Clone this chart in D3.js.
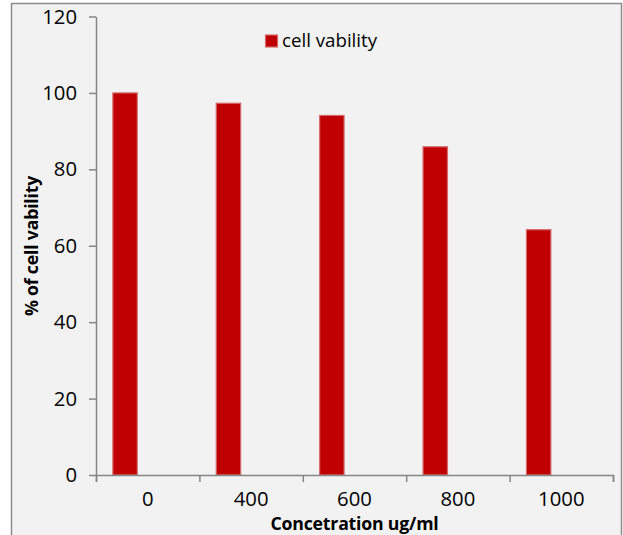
<!DOCTYPE html>
<html>
<head>
<meta charset="utf-8">
<script src="https://cdn.jsdelivr.net/npm/d3@7"></script>
<style>
  body { margin: 0; background: #ffffff; }
  svg { display: block; }
</style>
</head>
<body>
<div id="chart"></div>
<script>
window.onload = function() {
const FRAME_WIDTH = 623;
const FRAME_HEIGHT = 535;
const MARGINS = {left: 96, right: 10, top: 16.5, bottom: 60};
const PLOT_RIGHT = 613;
const PLOT_BOTTOM = 475;

// data
const concentrations = ["0", "400", "600", "800", "1000"];
const viability = [100, 97.3, 94.1, 85.9, 64.2];
const yTicks = [0, 20, 40, 60, 80, 100, 120];
const seriesName = "cell vability";

const FONT = "'Open Sans', sans-serif";
const BAR_COLOR = "#c00000";
const AXIS_COLOR = "#868686";

const svg = d3.select("#chart")
  .append("svg")
  .attr("width", FRAME_WIDTH)
  .attr("height", FRAME_HEIGHT);

// chart area frame (runs off the bottom of the picture)
svg.append("rect")
  .attr("x", 11.5)
  .attr("y", 3.5)
  .attr("width", 610)
  .attr("height", 560)
  .attr("fill", "#f2f2f2")
  .attr("stroke", "#8c8c8c")
  .attr("stroke-width", 1.5);

// scales
const xScale = d3.scaleBand()
  .domain(concentrations)
  .range([MARGINS.left, PLOT_RIGHT])
  .padding(0);

const yScale = d3.scaleLinear()
  .domain([0, 120])
  .range([PLOT_BOTTOM, MARGINS.top]);

// bars sit left of the category centre, like the excel original
const barOffset = xScale.bandwidth() * 0.163;
const barWidth = xScale.bandwidth() * 0.236;

const bars = svg.append("g");
bars.selectAll("rect")
  .data(concentrations)
  .enter()
  .append("rect")
  .attr("x", (d) => xScale(d) + barOffset)
  .attr("y", (d, i) => yScale(viability[i]))
  .attr("width", barWidth)
  .attr("height", (d, i) => yScale(0) - yScale(viability[i]))
  .attr("fill", BAR_COLOR)
  .attr("stroke", "#d46a6a")
  .attr("stroke-width", 1.2);

// y axis
const yAxis = svg.append("g")
  .attr("transform", `translate(${MARGINS.left}, 0)`)
  .call(d3.axisLeft(yScale).tickValues(yTicks).tickSize(7).tickSizeOuter(0).tickPadding(12));

// x axis: tick marks at the category edges, labels in the middle
const edges = d3.range(concentrations.length + 1);
const edgeScale = d3.scaleLinear()
  .domain([0, concentrations.length])
  .range([MARGINS.left, PLOT_RIGHT]);

const xAxis = svg.append("g")
  .attr("transform", `translate(0, ${PLOT_BOTTOM})`)
  .call(d3.axisBottom(edgeScale).tickValues(edges).tickFormat("").tickSize(7).tickSizeOuter(7));

const xLabels = svg.append("g")
  .attr("transform", `translate(0, ${PLOT_BOTTOM})`)
  .call(d3.axisBottom(xScale).tickSize(0).tickPadding(16.5));
xLabels.select(".domain").remove();

[yAxis, xAxis].forEach((g) => {
  g.selectAll("path, line").attr("stroke", AXIS_COLOR).attr("stroke-width", 1.5);
});
svg.selectAll(".tick text")
  .attr("font-family", FONT)
  .attr("font-size", "20.3px")
  .attr("fill", "#000");

// axis titles
svg.append("text")
  .attr("x", (MARGINS.left + PLOT_RIGHT) / 2)
  .attr("y", 530)
  .attr("text-anchor", "middle")
  .attr("font-family", FONT)
  .attr("font-weight", "bold")
  .attr("font-size", "17.7px")
  .attr("letter-spacing", "-0.2px")
  .text("Concetration ug/ml");

svg.append("text")
  .attr("transform", "translate(38, 246) rotate(-90)")
  .attr("text-anchor", "middle")
  .attr("font-family", FONT)
  .attr("font-weight", "bold")
  .attr("font-size", "17.7px")
  .attr("letter-spacing", "-0.2px")
  .text("% of " + seriesName);

// legend
svg.append("rect")
  .attr("x", 265.5)
  .attr("y", 35)
  .attr("width", 12)
  .attr("height", 12)
  .attr("fill", BAR_COLOR)
  .attr("stroke", "#d46a6a")
  .attr("stroke-width", 1.2);

svg.append("text")
  .attr("x", 282)
  .attr("y", 47)
  .attr("font-family", FONT)
  .attr("font-size", "18.7px")
  .text(seriesName);
};
</script>
</body>
</html>
